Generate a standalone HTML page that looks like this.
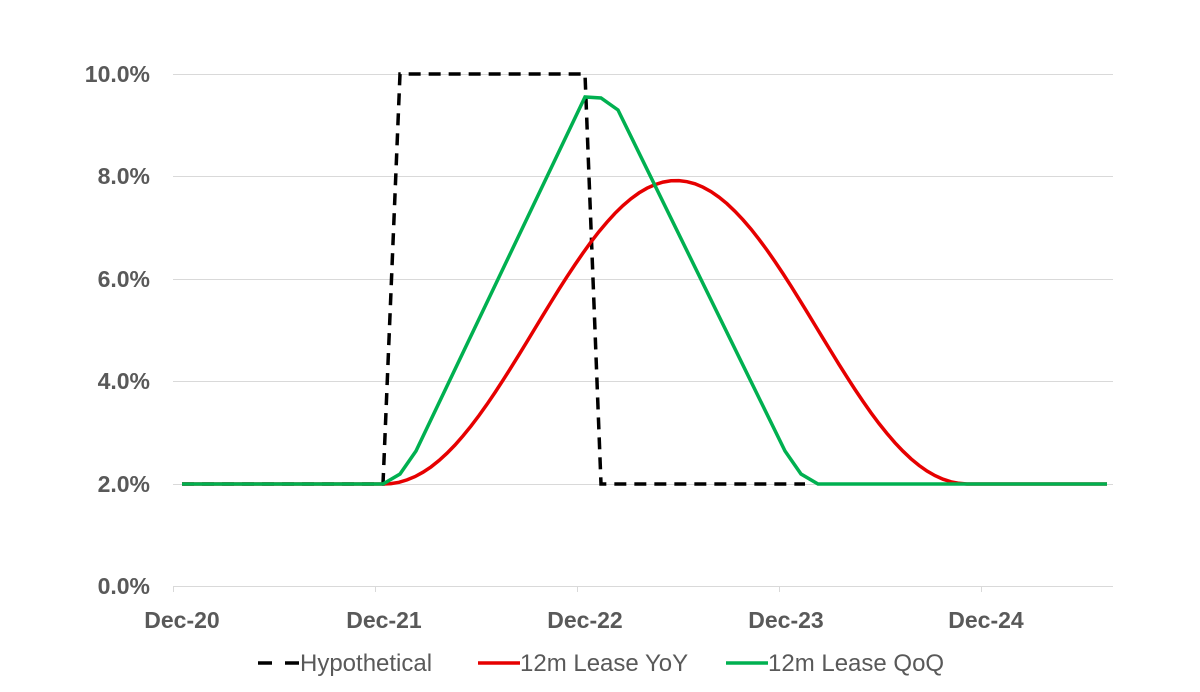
<!DOCTYPE html>
<html><head><meta charset="utf-8"><style>
html,body{margin:0;padding:0;background:#fff;}
svg{display:block}
.t{font-family:"Liberation Sans",Arial,sans-serif;font-weight:bold;font-size:23px;fill:#595959}
.l{font-family:"Liberation Sans",Arial,sans-serif;font-size:24px;fill:#595959}
</style></head><body>
<svg id="s" width="1200" height="692" viewBox="0 0 1200 692" xmlns="http://www.w3.org/2000/svg">
<g stroke="#d9d9d9" stroke-width="1">
<line x1="173" y1="74.5" x2="1113" y2="74.5"/>
<line x1="173" y1="176.5" x2="1113" y2="176.5"/>
<line x1="173" y1="279.5" x2="1113" y2="279.5"/>
<line x1="173" y1="381.5" x2="1113" y2="381.5"/>
<line x1="173" y1="484.5" x2="1113" y2="484.5"/>
<line x1="173" y1="586.5" x2="1113" y2="586.5"/>
<line x1="173.5" y1="586" x2="173.5" y2="592"/>
<line x1="375.5" y1="586" x2="375.5" y2="592"/>
<line x1="577.5" y1="586" x2="577.5" y2="592"/>
<line x1="779.5" y1="586" x2="779.5" y2="592"/>
<line x1="981.5" y1="586" x2="981.5" y2="592"/>
</g>
<g class="t" text-anchor="end">
<text x="150" y="82">10.0%</text>
<text x="150" y="184">8.0%</text>
<text x="150" y="287">6.0%</text>
<text x="150" y="389">4.0%</text>
<text x="150" y="492">2.0%</text>
<text x="150" y="594">0.0%</text>
</g>
<g class="t" text-anchor="middle">
<text x="182" y="628">Dec-20</text>
<text x="384" y="628">Dec-21</text>
<text x="585" y="628">Dec-22</text>
<text x="786" y="628">Dec-23</text>
<text x="986" y="628">Dec-24</text>
</g>
<polyline fill="none" stroke="#000" stroke-width="3.5" stroke-dasharray="12,8" points="182,484 383,484 400,74 585,74 601,484 805,484"/>
<path id="red" fill="none" stroke="#e60000" stroke-width="3.5" d=""/>
<polyline fill="none" stroke="#00b050" stroke-width="3.5" points="182,484 383,484 400,474 416,451 585,97 601,98 618,110 785,451 801,474 818,484 1107,484"/>
<g>
<line x1="258" y1="663" x2="272" y2="663" stroke="#000" stroke-width="3.5"/>
<line x1="285" y1="663" x2="299" y2="663" stroke="#000" stroke-width="3.5"/>
<text class="l" x="300" y="671">Hypothetical</text>
<line x1="478" y1="663" x2="520" y2="663" stroke="#e60000" stroke-width="3.5"/>
<text class="l" x="520" y="671">12m Lease YoY</text>
<line x1="726" y1="663" x2="768" y2="663" stroke="#00b050" stroke-width="3.5"/>
<text class="l" x="768" y="671">12m Lease QoQ</text>
</g>
</svg>
<script>
var pts=["M182,484","L383,484"];
for(var x=383;x<=972;x+=8){var t=(x-676)/293;if(t>1)t=1;if(t<-1)t=-1;var f=Math.pow(0.5+0.5*Math.cos(Math.PI*t),1.05);var v=2+5.95*f;pts.push("L"+x+","+(586-51*v).toFixed(1));}
pts.push("L972,484","L1107,484");
document.getElementById("red").setAttribute("d",pts.join(" "));
</script>
</body></html>
